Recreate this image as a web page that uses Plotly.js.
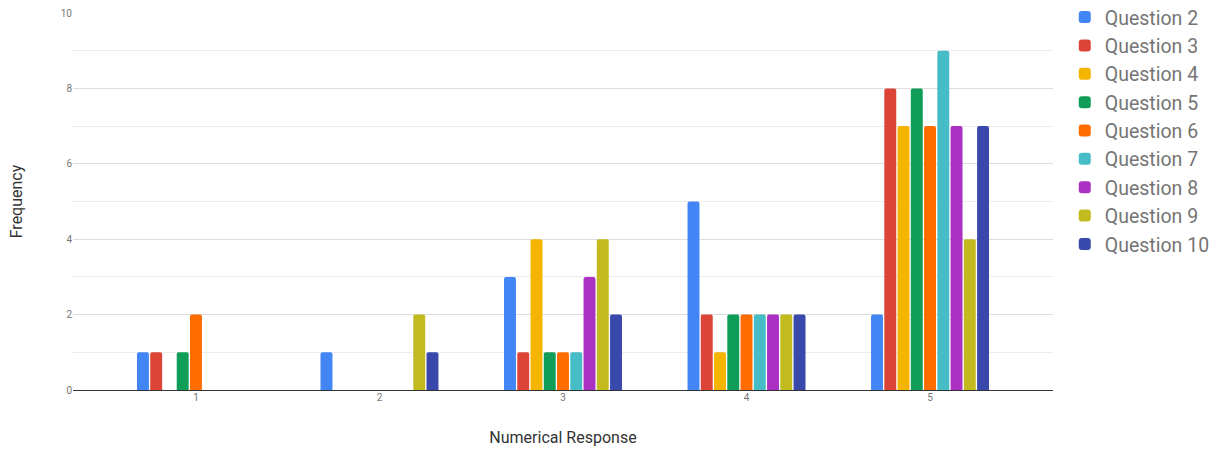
<!DOCTYPE html>
<html><head><meta charset="utf-8">
<script src="https://cdn.plot.ly/plotly-3.0.1.min.js"></script>
<style>html,body{margin:0;padding:0;background:#fff}#c{width:1218px;height:450px}</style>
</head><body><div id="c"></div>
<script>
const categories = ["1","2","3","4","5"];
const seriesNames = ["Question 2","Question 3","Question 4","Question 5","Question 6","Question 7","Question 8","Question 9","Question 10"];
const q2  = [1,1,3,5,2];
const q3  = [1,0,1,2,8];
const q4  = [0,0,4,1,7];
const q5  = [1,0,1,2,8];
const q6  = [2,0,1,2,7];
const q7  = [0,0,1,2,9];
const q8  = [0,0,3,2,7];
const q9  = [0,2,4,2,4];
const q10 = [0,1,2,2,7];
const seriesValues = [q2,q3,q4,q5,q6,q7,q8,q9,q10];
const colors = ["#4285f4","#db4437","#f4b400","#0f9d58","#ff6d00","#46bdc6","#ab30c4","#c2ba1f","#3949ab"];
const yTicks = [0,2,4,6,8,10];

const traces = seriesNames.map((n,i)=>({
  type:"bar", name:n, x:categories, y:seriesValues[i],
  marker:{color:colors[i], cornerradius:2}
}));
const layout = {
  width:1218, height:450,
  margin:{l:73, r:165, t:13, b:60, autoexpand:false},
  font:{family:"Roboto, Arial, sans-serif", color:"#757575"},
  barmode:"group", bargap:0.35, bargroupgap:0.1,
  paper_bgcolor:"#fff", plot_bgcolor:"#fff",
  xaxis:{type:"category", range:[-0.67,4.67], showgrid:false, showline:false, ticks:"",
    tickfont:{size:10, color:"#757575"},
    title:{text:"Numerical Response", font:{size:16, color:"#333"}, standoff:29}},
  yaxis:{range:[0,10], tickvals:yTicks, ticktext:yTicks.map(String), showgrid:true, gridcolor:"#dddddd",
    minor:{dtick:1, showgrid:true, gridcolor:"#ececec"},
    zeroline:true, zerolinecolor:"#333", zerolinewidth:1,
    tickfont:{size:10, color:"#757575"}, ticklen:0, ticks:"",
    title:{text:"Frequency", font:{size:16, color:"#333"}, standoff:34}},
  showlegend:true,
  legend:{x:1.012, xanchor:"left", y:1.04, yanchor:"top", font:{size:19.5, color:"#757575"},
    maxheight:440, bgcolor:"rgba(0,0,0,0)"}
};
Plotly.newPlot("c", traces, layout, {displayModeBar:false, staticPlot:true});
</script></body></html>
